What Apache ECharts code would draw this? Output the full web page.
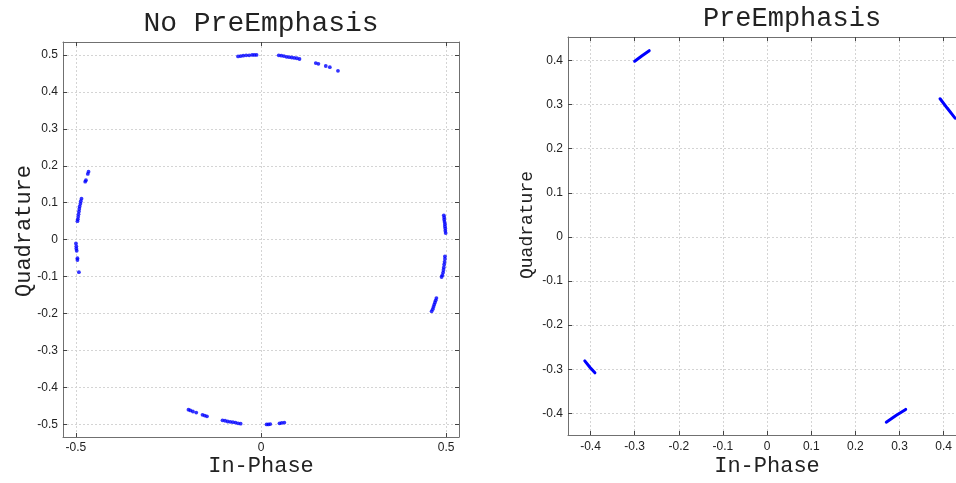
<!DOCTYPE html>
<html>
<head>
<meta charset="utf-8">
<script src="https://cdn.jsdelivr.net/npm/echarts@6/dist/echarts.min.js"></script>
<style>
  html, body { margin: 0; padding: 0; background: #ffffff; }
  #chart { width: 956px; height: 483px; }
</style>
</head>
<body>
<div id="chart"></div>
<script>
// Tick values for each panel
const leftXTicks = [-0.5, 0, 0.5];
const leftYTicks = [-0.5, -0.4, -0.3, -0.2, -0.1, 0, 0.1, 0.2, 0.3, 0.4, 0.5];
const rightTicks = [-0.4, -0.3, -0.2, -0.1, 0, 0.1, 0.2, 0.3, 0.4];

// Received symbols without pre-emphasis: [in-phase, quadrature]
const noPreEmphasisTop = [
  [-0.062, 0.496], [-0.055, 0.497], [-0.048, 0.498], [-0.040, 0.499], [-0.032, 0.499],
  [-0.024, 0.500], [-0.018, 0.500], [-0.012, 0.500],
  [0.048, 0.499], [0.055, 0.498], [0.062, 0.497], [0.069, 0.495], [0.076, 0.494],
  [0.083, 0.493], [0.090, 0.492], [0.097, 0.491], [0.104, 0.489],
  [0.148, 0.478], [0.155, 0.476], [0.175, 0.470], [0.186, 0.467], [0.208, 0.457]
];
const noPreEmphasisLeft = [
  [-0.466, 0.184], [-0.468, 0.178], [-0.473, 0.161], [-0.475, 0.157],
  [-0.485, 0.111], [-0.487, 0.104], [-0.488, 0.097], [-0.490, 0.090], [-0.491, 0.083],
  [-0.492, 0.076], [-0.493, 0.069], [-0.494, 0.062], [-0.495, 0.055], [-0.496, 0.050],
  [-0.500, -0.010], [-0.499, -0.018], [-0.499, -0.024], [-0.498, -0.030],
  [-0.496, -0.050], [-0.496, -0.055], [-0.492, -0.088]
];
const noPreEmphasisRight = [
  [0.494, 0.066], [0.495, 0.060], [0.495, 0.054], [0.496, 0.048], [0.497, 0.042],
  [0.497, 0.036], [0.498, 0.030], [0.498, 0.024], [0.499, 0.018],
  [0.497, -0.045], [0.497, -0.052], [0.496, -0.060], [0.495, -0.067], [0.494, -0.075],
  [0.493, -0.082], [0.492, -0.089], [0.490, -0.096], [0.488, -0.101],
  [0.474, -0.158], [0.472, -0.164], [0.470, -0.170], [0.468, -0.176], [0.466, -0.182],
  [0.464, -0.188], [0.461, -0.194]
];
const noPreEmphasisBottom = [
  [-0.196, -0.460], [-0.191, -0.462], [-0.184, -0.465], [-0.175, -0.468],
  [-0.158, -0.474], [-0.152, -0.476], [-0.146, -0.478],
  [-0.104, -0.489], [-0.097, -0.490], [-0.090, -0.492], [-0.083, -0.493], [-0.076, -0.494],
  [-0.069, -0.495], [-0.062, -0.497], [-0.055, -0.498],
  [0.015, -0.500], [0.020, -0.500], [0.025, -0.499], [0.050, -0.497], [0.056, -0.496], [0.063, -0.495]
];

// Received symbols with pre-emphasis: short arcs, start / middle / end
const preEmphasisUpperLeft = [[-0.300, 0.398], [-0.284, 0.410], [-0.267, 0.422]];
const preEmphasisUpperRight = [[0.392, 0.313], [0.408, 0.292], [0.426, 0.269]];
const preEmphasisLowerLeft = [[-0.413, -0.281], [-0.401, -0.296], [-0.390, -0.308]];
const preEmphasisLowerRight = [[0.270, -0.420], [0.292, -0.405], [0.314, -0.391]];

const BLUE = '#0000ff';
const FRAME = '#707070';
const GRID_LINE = '#d4d4d4';
const MONO = '"Liberation Mono", "DejaVu Sans Mono", monospace';

function axis(opts) {
  return {
    type: 'value',
    gridIndex: opts.grid,
    position: opts.position,
    min: opts.min,
    max: opts.max,
    axisLine: { show: opts.line !== false, onZero: false, lineStyle: { color: FRAME, width: 1 } },
    axisTick: {
      show: opts.line !== false, inside: true, length: 4,
      customValues: opts.ticks,
      lineStyle: { color: '#444444', width: 1 }
    },
    axisLabel: {
      show: !!opts.labels,
      customValues: opts.ticks,
      margin: opts.margin || 5,
      color: '#222222',
      fontFamily: '"Liberation Sans", Arial, sans-serif',
      fontSize: 12
    },
    splitLine: {
      show: !!opts.labels,
      lineStyle: { color: GRID_LINE, type: [2, 2], width: 1 }
    }
  };
}

const chart = echarts.init(document.getElementById('chart'), null, { renderer: 'canvas' });

const dotSeries = (data) => ({
  type: 'scatter', xAxisIndex: 0, yAxisIndex: 0, data: data,
  symbol: 'circle', symbolSize: 3.8,
  itemStyle: { color: BLUE }, silent: true
});
const arcSeries = (data) => ({
  type: 'line', xAxisIndex: 2, yAxisIndex: 2, data: data,
  showSymbol: false, smooth: false, silent: true,
  lineStyle: { color: BLUE, width: 3, cap: 'round' }
});

chart.setOption({
  animation: false,
  backgroundColor: '#ffffff',
  grid: [
    { left: 63, top: 42, width: 396, height: 395 },
    // the right panel runs to the page edge; its right border falls outside
    { left: 568, top: 37, width: 388, height: 398 }
  ],
  xAxis: [
    axis({ grid: 0, position: 'bottom', min: -0.535, max: 0.535, ticks: leftXTicks, labels: true, margin: 5 }),
    axis({ grid: 0, position: 'top', min: -0.535, max: 0.535, ticks: leftXTicks }),
    axis({ grid: 1, position: 'bottom', min: -0.451, max: 0.428, ticks: rightTicks, labels: true, margin: 6 }),
    axis({ grid: 1, position: 'top', min: -0.451, max: 0.428, ticks: rightTicks })
  ],
  yAxis: [
    axis({ grid: 0, position: 'left', min: -0.534, max: 0.535, ticks: leftYTicks, labels: true, margin: 5 }),
    axis({ grid: 0, position: 'right', min: -0.534, max: 0.535, ticks: leftYTicks }),
    axis({ grid: 1, position: 'left', min: -0.449, max: 0.453, ticks: rightTicks, labels: true, margin: 5 }),
    axis({ grid: 1, position: 'right', min: -0.449, max: 0.453, ticks: rightTicks, line: false })
  ],
  series: [
    dotSeries(noPreEmphasisTop),
    dotSeries(noPreEmphasisLeft),
    dotSeries(noPreEmphasisRight),
    dotSeries(noPreEmphasisBottom),
    arcSeries(preEmphasisUpperLeft),
    arcSeries(preEmphasisUpperRight),
    arcSeries(preEmphasisLowerLeft),
    arcSeries(preEmphasisLowerRight)
  ],
  graphic: [
    { type: 'text', x: 261, y: 24, silent: true,
      style: { text: 'No PreEmphasis', font: '28px ' + MONO, fill: '#222222', align: 'center', verticalAlign: 'middle' } },
    { type: 'text', x: 792, y: 19, silent: true,
      style: { text: 'PreEmphasis', font: '27px ' + MONO, fill: '#222222', align: 'center', verticalAlign: 'middle' } },
    { type: 'text', x: 24, y: 231, rotation: Math.PI / 2, silent: true,
      style: { text: 'Quadrature', font: '22px ' + MONO, fill: '#222222', align: 'center', verticalAlign: 'middle' } },
    { type: 'text', x: 527, y: 225, rotation: Math.PI / 2, silent: true,
      style: { text: 'Quadrature', font: '18px ' + MONO, fill: '#222222', align: 'center', verticalAlign: 'middle' } },
    { type: 'text', x: 261, y: 466, silent: true,
      style: { text: 'In-Phase', font: '22px ' + MONO, fill: '#222222', align: 'center', verticalAlign: 'middle' } },
    { type: 'text', x: 767, y: 466, silent: true,
      style: { text: 'In-Phase', font: '22px ' + MONO, fill: '#222222', align: 'center', verticalAlign: 'middle' } }
  ]
});
</script>
</body>
</html>
